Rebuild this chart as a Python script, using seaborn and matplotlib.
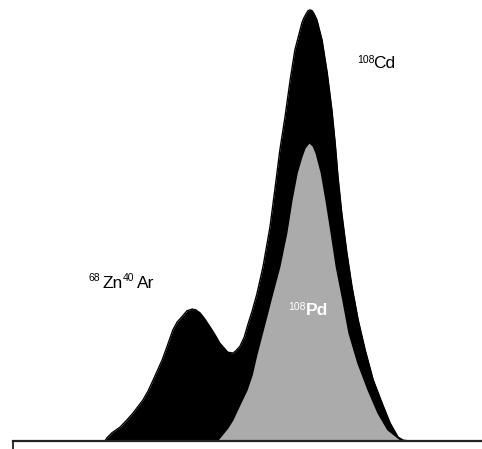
import numpy as np
import pandas as pd
import matplotlib
matplotlib.use("Agg")
import matplotlib.pyplot as plt
import seaborn as sns

# Combined signal (108Cd + 68Zn40Ar + 108Pd)
total_x = [0, 19.6, 20.0, 21.1, 22.8, 24.3, 25.6, 27.7, 28.8, 29.9,
           31.8, 32.8, 34.1, 35.0, 36.0, 37.1, 38.2, 39.0, 39.9, 40.9,
           42.0, 43.1, 44.1, 45.0, 45.8, 46.9, 47.5, 48.4, 49.3, 50.1,
           51.0, 52.0, 53.3, 54.8, 55.9, 56.9, 58.0, 59.1, 60.1, 61.6,
           62.0, 62.5, 62.9, 63.3, 63.8, 64.2, 64.8, 65.9, 67.0, 68.0,
           68.7, 69.3, 70.1, 71.2, 72.3, 73.6, 75.1, 76.8, 78.7, 80.4,
           82.1, 83.2, 84.6, 100]
total_y = [0, 0, 0.7, 1.9, 3.2, 4.9, 6.5, 9.5, 11.6, 14.2,
           18.8, 21.8, 25.8, 27.6, 28.8, 30.2, 30.6, 30.4, 29.7, 28.3,
           26.5, 24.6, 22.7, 21.6, 20.6, 20.4, 20.9, 22.0, 24.1, 27.1,
           30.2, 34.1, 40.4, 49.7, 58.9, 67.5, 75.2, 83.8, 90.7, 97.0,
           98.1, 99.1, 99.8, 100, 99.8, 99.1, 97.7, 93.0, 85.4, 76.8,
           69.1, 61.3, 52.9, 43.6, 35.7, 28.1, 21.1, 14.2, 8.8, 4.2,
           0.9, 0.2, 0, 0]

# 108Pd contribution
pd_x = [43.1, 43.7, 44.6, 45.8, 46.9, 48.4, 49.9, 51.0, 52.0, 53.1,
        54.2, 55.4, 56.9, 58.4, 59.5, 60.6, 61.6, 62.3, 63.1, 63.8,
        64.4, 65.5, 66.5, 67.6, 68.7, 70.1, 71.4, 73.3, 75.5, 77.6,
        79.7, 81.9, 82.5, 82.9]
pd_y = [0, 0.2, 1.4, 3.0, 4.9, 8.4, 11.8, 15.3, 20.0, 24.6,
        29.2, 34.3, 40.4, 48.3, 55.9, 62.2, 65.9, 68.0, 69.1, 68.4,
        66.8, 62.2, 55.9, 48.3, 40.4, 32.7, 25.1, 18.1, 11.8, 6.5,
        2.6, 0.7, 0.2, 0]

sns.set_style("white")
plt.rcParams["font.family"] = ["Liberation Sans", "DejaVu Sans"]

fig = plt.figure(figsize=(4.82, 4.49), dpi=100)
ax = fig.add_axes([13 / 482, 8 / 449, 469 / 482, 441 / 449])

total = pd.DataFrame({"x": total_x, "y": total_y})
pdpeak = pd.DataFrame({"x": pd_x, "y": pd_y})

ax.fill_between(total["x"], total["y"], color="black", lw=0)
sns.lineplot(data=total, x="x", y="y", color="black", lw=1, ax=ax)
ax.fill_between(pdpeak["x"], pdpeak["y"], color="#ababab", lw=0)

ax.set_xlim(0, 100)
ax.set_ylim(0, 102.3)
ax.set_xlabel("")
ax.set_ylabel("")
ax.set_xticks([0])
ax.set_xticklabels([""])
ax.set_yticks([])
ax.tick_params(axis="x", direction="out", length=6, width=1.3, color="#222222", bottom=True)
sns.despine(ax=ax, left=True, top=True, right=True)
ax.spines["bottom"].set_color("#222222")
ax.spines["bottom"].set_linewidth(1.6)

# labels
main_fs = 12.5
sup_fs = 7.5
ax.text(73.3, 89.6, "108", fontsize=sup_fs, va="top", ha="left", color="black")
ax.text(76.8, 86.5, "Cd", fontsize=main_fs, va="baseline", ha="left", color="black")

ax.text(16.0, 39.0, "68", fontsize=sup_fs, va="top", ha="left", color="black")
ax.text(19.0, 35.5, "Zn", fontsize=main_fs, va="baseline", ha="left", color="black")
ax.text(23.5, 39.0, "40", fontsize=sup_fs, va="top", ha="left", color="black")
ax.text(26.5, 35.5, "Ar", fontsize=main_fs, va="baseline", ha="left", color="black")

ax.text(58.6, 32.3, "108", fontsize=sup_fs, va="top", ha="left", color="white")
ax.text(62.5, 29.2, "Pd", fontsize=main_fs, va="baseline", ha="left",
        color="white", fontweight="bold")

fig.savefig("out.png", dpi=100)
